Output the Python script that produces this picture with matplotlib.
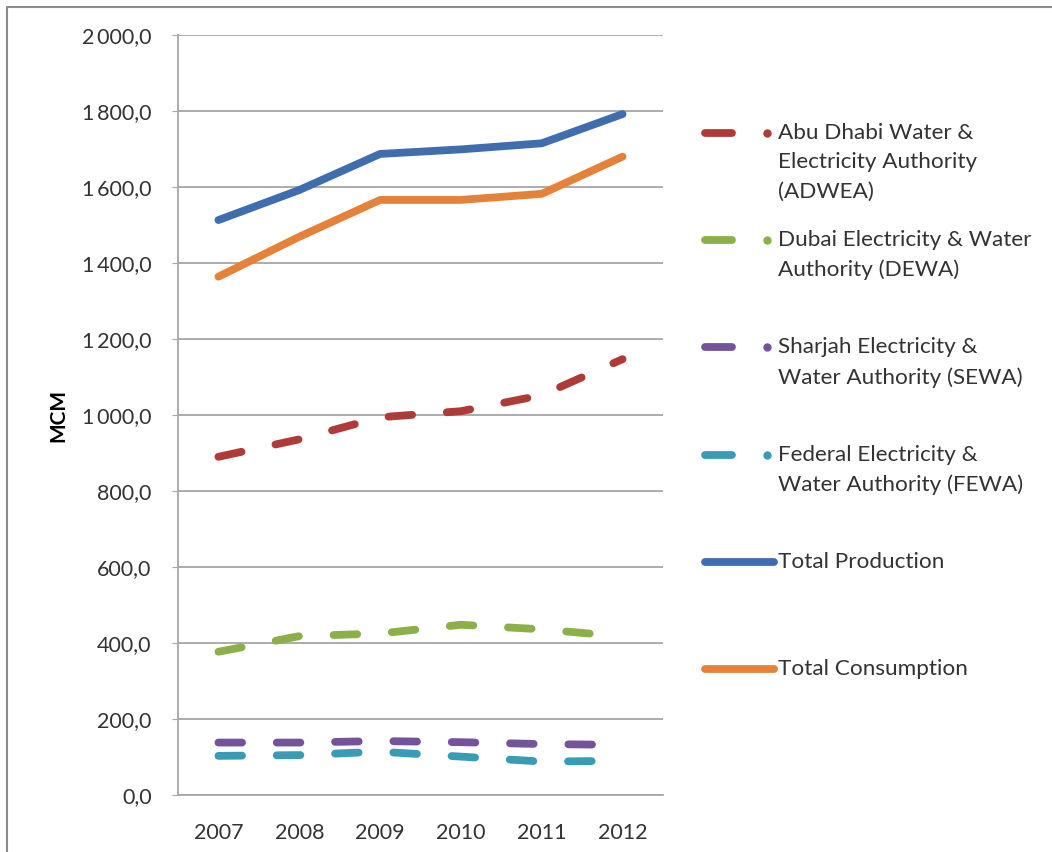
import matplotlib
matplotlib.use("Agg")
from matplotlib import pyplot as plt
from matplotlib.lines import Line2D

years = ["2007", "2008", "2009", "2010", "2011", "2012"]
adwea = [890, 936, 994, 1010, 1052, 1147]
dewa = [377, 418, 425, 448, 436, 417]
sewa = [138, 138, 142, 139, 134, 132]
fewa = [103, 105, 114, 101, 88, 90]
total_production = [1513, 1592, 1687, 1699, 1715, 1792]
total_consumption = [1364, 1469, 1566, 1566, 1582, 1680]

labels = [
    "Abu Dhabi Water &\nElectricity Authority\n(ADWEA)",
    "Dubai Electricity & Water\nAuthority (DEWA)",
    "Sharjah Electricity &\nWater Authority (SEWA)",
    "Federal Electricity &\nWater Authority (FEWA)",
    "Total Production",
    "Total Consumption",
]
colors = ["#AE3B38", "#8BB04A", "#73539A", "#3A9BB4", "#3F6DAE", "#E5823A"]
series = [adwea, dewa, sewa, fewa, total_production, total_consumption]
dashed = [True, True, True, True, False, False]

plt.rcParams['font.family'] = ['Lato', 'DejaVu Sans']
W, H = 1052, 852
fig = plt.figure(figsize=(W / 100, H / 100), dpi=100)
ax = fig.add_axes([178 / W, 1 - 795 / H, 485 / W, 760 / H])

x = range(len(years))
lw = 5.6
for vals, col, d in zip(series, colors, dashed):
    line, = ax.plot(x, vals, color=col, lw=lw, solid_capstyle='round',
                    dash_capstyle='round', solid_joinstyle='round')
    if d:
        line.set_dashes((17 / lw, 25 / lw))

ax.set_xlim(-0.5, 5.5)
ax.set_ylim(0, 2000)
ax.set_yticks(range(0, 2001, 200))
ax.set_yticklabels([f"{v:,}".replace(",", "\u2009") + ",0" if v >= 1000 else f"{v},0"
                    for v in range(0, 2001, 200)])
ax.set_xticks(list(x))
ax.set_xticklabels(years)
ax.grid(axis='y', color='#a6a6a6', lw=1.3)
ax.set_axisbelow(True)
for s in ['top', 'right']:
    ax.spines[s].set_visible(False)
for s in ['left', 'bottom']:
    ax.spines[s].set_color('#a6a6a6')
    ax.spines[s].set_linewidth(1.3)
ax.tick_params(axis='y', length=4, color='#a6a6a6', labelsize=15.5, labelcolor='#333333', pad=15)
ax.tick_params(axis='x', length=0, labelsize=15.5, labelcolor='#333333', pad=20)
ax.set_ylabel("MCM", fontsize=15, fontweight='bold', labelpad=10)

# manual legend, handles aligned with first text line
for i, (lab, col, d) in enumerate(zip(labels, colors, dashed)):
    yp = 1 - (133 + 107.2 * i) / H
    if d:
        fig.add_artist(Line2D([705 / W, 732 / W], [yp, yp], transform=fig.transFigure,
                              color=col, lw=lw, solid_capstyle='round'))
        fig.add_artist(Line2D([767 / W], [yp], transform=fig.transFigure, marker='o',
                              ms=5, color=col, lw=0))
    else:
        fig.add_artist(Line2D([705 / W, 774 / W], [yp, yp], transform=fig.transFigure,
                              color=col, lw=lw, solid_capstyle='round'))
    fig.text(778 / W, yp + 10 / H, lab, fontsize=16.2, color='#333333', va='top',
             ha='left', linespacing=1.58)

# outer chart border
fig.add_artist(Line2D([7 / W, 7 / W, 1052 / W], [0, 1 - 7 / H, 1 - 7 / H],
                      transform=fig.transFigure, color='#8c8c8c', lw=1.5))

fig.savefig("out.png", dpi=100)
